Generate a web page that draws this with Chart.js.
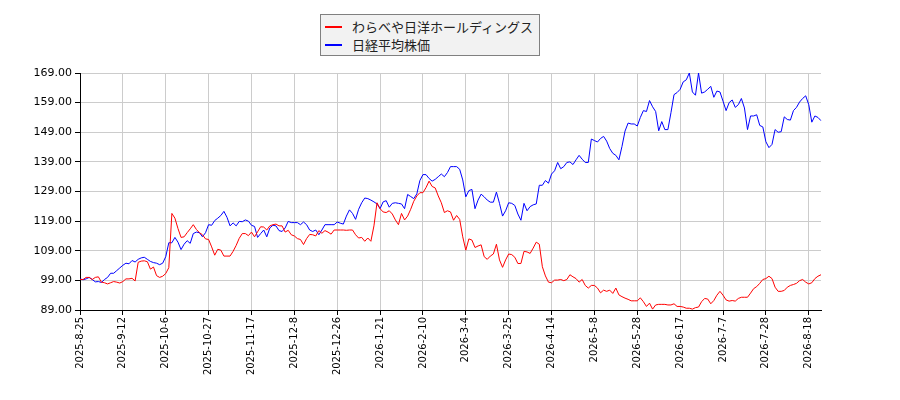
<!DOCTYPE html>
<html lang="ja">
<head>
<meta charset="utf-8">
<title>わらべや日洋ホールディングス と 日経平均株価</title>
<script src="https://cdn.jsdelivr.net/npm/chart.js@4/dist/chart.umd.min.js"></script>
<style>
    body { margin: 0; background: #fff; }
    #wrap { position: relative; width: 900px; height: 400px; }
    #legend {
        position: absolute; left: 320px; top: 14px; width: 218px; height: 40px;
        background: #f2f2f2; border: 1px solid #808080;
        font-family: "Noto Sans CJK JP", sans-serif; font-size: 13px; color: #222;
    }
    .item { position: absolute; left: 0; height: 18px; line-height: 18px; white-space: nowrap; }
    .swatch { position: absolute; left: 4px; top: 8px; width: 17px; height: 2px; }
    .label { position: absolute; left: 31px; top: 0; }
</style>
</head>
<body>
<div id="wrap">
    <canvas id="main-chart" width="900" height="400"></canvas>
    <div id="legend"></div>
</div>
<script>
// tick labels, one every 14 trading days
const tickLabels = ['2025-8-25', '2025-9-12', '2025-10-6', '2025-10-27', '2025-11-17', '2025-12-8',
    '2025-12-26', '2026-1-21', '2026-2-10', '2026-3-4', '2026-3-25', '2026-4-14', '2026-5-8',
    '2026-5-28', '2026-6-17', '2026-7-7', '2026-7-28', '2026-8-18'];
const tickEvery = 14;

const seriesNames = ['わらべや日洋ホールディングス', '日経平均株価'];
const seriesColors = ['#ff0000', '#0000ff'];

// relative prices (start = ~99)
const warabeya = [
    99.3, 99.3, 100.0, 100.0, 99.3, 100.0, 100.2, 98.4, 98.2, 97.8,
    98.2, 98.6, 98.4, 98.1, 98.6, 99.5, 99.5, 99.7, 98.8, 105.1,
    105.5, 105.6, 105.3, 102.8, 103.5, 100.6, 100.0, 100.4, 101.3, 103.3,
    121.6, 120.0, 116.5, 113.5, 113.7, 115.1, 116.4, 117.8, 116.2, 115.1,
    114.4, 113.0, 112.8, 110.3, 107.5, 109.5, 109.2, 107.2, 107.2, 107.2,
    108.8, 110.8, 113.2, 114.8, 114.8, 114.1, 115.3, 113.7, 115.4, 117.1,
    117.0, 116.0, 117.4, 117.8, 118.0, 117.4, 117.4, 115.3, 115.9, 114.4,
    114.0, 113.1, 112.8, 111.1, 113.1, 114.5, 114.4, 114.0, 115.8, 114.9,
    115.8, 115.3, 114.6, 116.0, 116.0, 116.0, 116.0, 115.9, 116.0, 116.0,
    114.4, 113.3, 113.5, 112.2, 113.3, 112.2, 117.4, 125.2, 123.2, 122.1,
    121.9, 122.5, 121.4, 119.4, 117.8, 121.6, 119.4, 120.7, 123.0, 125.7,
    127.5, 128.6, 128.6, 130.3, 132.5, 130.7, 130.2, 127.5, 125.2, 121.9,
    122.5, 122.1, 119.3, 120.9, 119.6, 113.7, 109.2, 113.0, 112.6, 110.1,
    110.6, 111.0, 107.0, 106.1, 107.2, 107.9, 111.2, 105.9, 103.4, 105.9,
    107.9, 107.7, 106.8, 104.7, 104.7, 108.8, 108.6, 108.1, 109.9, 111.9,
    111.2, 103.6, 100.5, 98.4, 98.2, 99.1, 99.1, 99.3, 98.9, 99.3,
    100.9, 100.2, 99.6, 98.4, 99.3, 97.3, 96.4, 97.3, 97.3, 96.4,
    94.8, 95.7, 95.3, 95.7, 94.6, 96.4, 94.1, 93.5, 93.0, 92.6,
    92.1, 92.1, 92.1, 93.1, 91.8, 90.2, 91.3, 89.3, 90.7, 90.9,
    90.9, 90.9, 90.7, 90.7, 91.1, 90.2, 90.2, 90.0, 89.6, 89.6,
    89.3, 89.8, 90.0, 91.8, 92.9, 92.7, 91.1, 92.2, 94.0, 95.3,
    94.0, 92.4, 92.0, 92.2, 92.0, 92.9, 93.3, 93.3, 93.3, 94.7,
    96.2, 96.9, 98.0, 99.3, 99.6, 100.4, 99.6, 96.7, 95.3, 95.3,
    95.6, 96.7, 97.3, 97.6, 98.0, 98.9, 99.3, 98.4, 97.8, 98.2,
    99.6, 100.4, 100.9
];

const nikkei = [
    99.5, 99.2, 99.5, 100.0, 99.3, 98.5, 98.6, 98.3, 99.3, 100.0,
    101.4, 101.4, 102.3, 103.2, 104.1, 104.8, 104.6, 105.7, 105.2, 106.1,
    106.6, 106.8, 106.1, 105.4, 105.0, 104.8, 104.3, 104.8, 107.0, 111.7,
    111.7, 113.5, 111.9, 109.4, 111.2, 112.4, 111.5, 114.8, 115.3, 115.1,
    113.7, 115.1, 117.8, 117.6, 119.2, 120.0, 120.9, 122.3, 120.3, 117.4,
    118.4, 117.4, 118.9, 118.8, 119.4, 119.0, 117.6, 117.2, 113.5, 114.8,
    116.0, 113.7, 116.7, 117.6, 117.4, 115.8, 115.5, 116.7, 118.9, 118.5,
    118.5, 118.5, 117.8, 118.7, 117.8, 116.0, 115.5, 116.0, 114.4, 116.0,
    117.8, 117.8, 117.8, 117.8, 118.7, 118.3, 118.0, 120.7, 122.8, 121.6,
    119.6, 123.0, 125.2, 126.8, 126.6, 126.1, 125.5, 124.8, 123.2, 125.5,
    125.9, 123.7, 125.0, 125.2, 125.0, 124.8, 123.2, 128.0, 127.3, 126.6,
    128.2, 132.7, 134.7, 134.7, 133.4, 132.5, 133.1, 134.0, 134.9, 134.0,
    135.4, 137.4, 137.4, 137.4, 136.5, 132.9, 127.2, 129.3, 129.7, 123.2,
    126.1, 128.1, 127.2, 126.1, 125.4, 125.4, 128.8, 125.0, 120.7, 122.5,
    125.2, 125.0, 124.3, 121.4, 119.3, 125.0, 122.5, 123.9, 124.5, 124.8,
    131.1, 131.1, 132.7, 131.8, 134.9, 136.0, 138.8, 136.7, 137.4, 138.8,
    139.0, 138.1, 139.7, 141.2, 139.9, 138.8, 138.8, 146.7, 146.2, 145.7,
    146.9, 147.6, 146.0, 143.5, 141.9, 141.2, 139.7, 144.2, 149.4, 152.1,
    151.8, 151.8, 151.1, 154.0, 156.3, 156.0, 159.7, 157.6, 156.0, 149.5,
    152.6, 149.9, 149.9, 155.6, 161.7, 162.4, 163.5, 166.0, 166.7, 169.0,
    162.6, 161.5, 169.0, 162.2, 162.6, 163.5, 164.5, 160.8, 162.9, 162.6,
    159.5, 156.3, 159.0, 159.9, 157.4, 158.3, 160.4, 157.2, 149.9, 154.5,
    154.5, 154.9, 151.3, 150.8, 145.8, 143.8, 144.9, 149.9, 149.0, 149.2,
    154.2, 153.3, 153.1, 156.3, 157.4, 159.2, 160.4, 161.3, 158.3, 152.4,
    154.5, 154.0, 152.9
];

const yMin = 89;
const yMax = 169;
const yStep = 10;

document.addEventListener('DOMContentLoaded', () => {
    buildLegend();
    initializeChart();
});

function buildLegend() {
    const legend = document.getElementById('legend');
    seriesNames.forEach((name, i) => {
        const item = document.createElement('div');
        item.className = 'item';
        item.style.top = (3 + i * 18) + 'px';
        item.innerHTML = '<span class="swatch" style="background:' + seriesColors[i] + '"></span>' +
            '<span class="label">' + name + '</span>';
        legend.appendChild(item);
    });
}

function initializeChart() {
    const labels = warabeya.map((v, i) => (i % tickEvery === 0 ? tickLabels[i / tickEvery] : ''));
    const ctx = document.getElementById('main-chart').getContext('2d');

    new Chart(ctx, {
        type: 'line',
        data: {
            labels: labels,
            datasets: [
                { label: seriesNames[0], data: warabeya, borderColor: seriesColors[0] },
                { label: seriesNames[1], data: nikkei, borderColor: seriesColors[1] }
            ]
        },
        options: {
            responsive: false,
            animation: false,
            events: [],
            layout: { padding: { top: 73, right: 79, left: 0, bottom: 0 } },
            elements: {
                line: { borderWidth: 1, tension: 0 },
                point: { radius: 0 }
            },
            plugins: {
                legend: { display: false },
                tooltip: { enabled: false }
            },
            scales: {
                x: {
                    type: 'category',
                    offset: false,
                    afterFit: (scale) => { scale.height = 90; },
                    border: { color: '#000', width: 1 },
                    grid: {
                        color: (c) => (c.index % tickEvery === 0 ? '#cccccc' : 'rgba(0,0,0,0)'),
                        tickColor: (c) => (c.index % tickEvery === 0 ? '#000' : 'rgba(0,0,0,0)'),
                        tickLength: 5
                    },
                    ticks: {
                        autoSkip: false,
                        maxRotation: 90,
                        minRotation: 90,
                        padding: 2,
                        color: '#000',
                        font: { family: 'DejaVu Sans', size: 10 }
                    }
                },
                y: {
                    min: yMin,
                    max: yMax,
                    afterFit: (scale) => { scale.width = 80; },
                    border: { color: '#000', width: 1 },
                    grid: { color: '#cccccc', tickColor: '#000', tickLength: 5 },
                    ticks: {
                        stepSize: yStep,
                        padding: 3,
                        color: '#000',
                        font: { family: 'DejaVu Sans', size: 11 },
                        callback: (v) => v.toFixed(2)
                    }
                }
            }
        }
    });
}
</script>
</body>
</html>
